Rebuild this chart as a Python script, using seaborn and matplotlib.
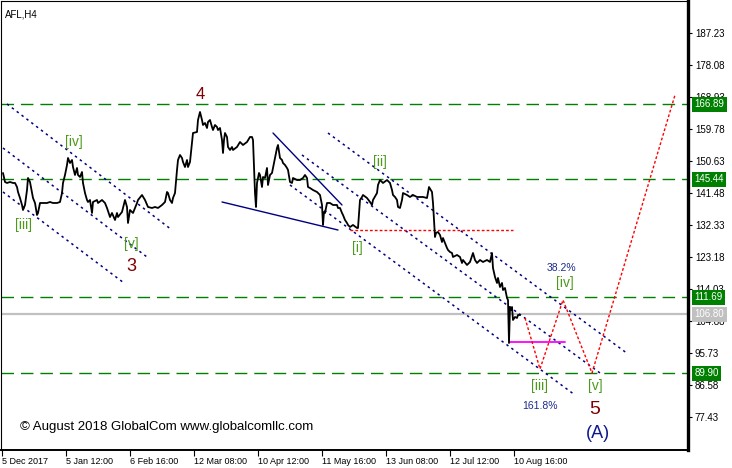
import numpy as np
import pandas as pd
import matplotlib
matplotlib.use("Agg")
import matplotlib.pyplot as plt
import matplotlib.transforms as mtransforms
import seaborn as sns

# --- price series (bar index, close) ---
bar_idx = [3, 5, 7, 10, 13, 15, 17, 18, 20, 22, 23, 25, 27, 28, 30, 32, 33, 35, 37, 38,
           40, 43, 47, 50, 53, 57, 60, 62, 63, 65, 67, 68, 70, 72, 73, 75, 77, 78, 80, 82,
           83, 85, 87, 88, 90, 92, 93, 97, 98, 102, 105, 107, 110, 112, 115, 117, 118, 122, 125, 127,
           128, 130, 133, 137, 138, 142, 145, 148, 152, 155, 158, 162, 165, 167, 168, 170, 172, 173, 175, 177,
           178, 180, 182, 183, 185, 187, 188, 190, 192, 193, 197, 198, 200, 202, 203, 205, 207, 208, 210, 212,
           213, 215, 217, 218, 220, 222, 223, 224, 225, 227, 228, 230, 232, 233, 237, 240, 243, 247, 250, 252,
           253, 254, 255, 256, 257, 259, 260, 262, 263, 265, 267, 268, 270, 272, 273, 275, 277, 278, 280, 282,
           283, 285, 287, 288, 290, 292, 293, 297, 300, 303, 305, 307, 308, 310, 313, 317, 320, 322, 323, 324,
           325, 327, 330, 333, 337, 338, 340, 342, 343, 345, 347, 348, 350, 353, 357, 358, 360, 362, 363, 367,
           370, 372, 373, 377, 378, 380, 383, 387, 390, 392, 393, 395, 397, 398, 400, 402, 403, 407, 410, 413,
           417, 420, 423, 427, 429, 432, 433, 435, 436, 438, 440, 442, 443, 445, 447, 448, 450, 452, 453, 457,
           460, 462, 463, 467, 470, 473, 475, 477, 480, 483, 487, 490, 492, 493, 495, 497, 498, 500, 502, 503,
           505, 507, 508, 509, 510, 511, 512, 513, 515, 517, 518, 520]
close = [147.23, 144.65, 144.37, 144.65, 144.37, 144.37, 143.22, 141.79, 140.07, 138.07, 136.64, 138.07, 142.36, 145.80, 144.65, 141.50, 140.07, 138.64, 135.21, 135.78,
         138.64, 138.64, 138.64, 138.93, 138.64, 138.64, 138.93, 141.50, 144.37, 146.66, 149.52, 151.52, 150.09, 150.95, 148.94, 146.66, 148.66, 146.66, 146.08, 147.51,
         144.37, 141.50, 139.50, 138.93, 139.50, 135.78, 138.93, 139.50, 138.64, 139.50, 138.64, 137.21, 134.63, 135.78, 133.78, 135.78, 134.63, 136.07, 139.50, 137.50,
         132.92, 136.64, 135.78, 138.64, 139.50, 140.93, 139.50, 137.50, 137.21, 137.50, 137.21, 138.07, 138.93, 141.79, 141.50, 139.50, 138.64, 140.07, 141.50, 148.09,
         150.95, 152.38, 151.52, 150.38, 148.94, 150.95, 148.94, 150.38, 155.81, 158.67, 158.96, 162.40, 164.69, 162.40, 160.97, 161.54, 160.11, 161.82, 162.40, 160.39,
         159.53, 160.97, 160.39, 159.53, 160.11, 156.67, 152.95, 156.67, 158.67, 157.53, 154.67, 153.81, 154.67, 153.81, 154.67, 156.10, 155.24, 156.10, 157.53, 157.53,
         156.67, 148.94, 141.50, 137.50, 144.37, 147.23, 146.66, 143.22, 146.08, 145.80, 148.66, 143.79, 146.66, 147.23, 148.66, 151.52, 154.38, 155.24, 151.52, 150.95,
         150.09, 149.52, 148.66, 148.09, 144.65, 144.37, 145.80, 145.22, 145.22, 145.80, 146.66, 145.80, 143.22, 142.93, 142.36, 141.79, 140.93, 138.07, 132.35, 136.07,
         135.78, 138.64, 138.64, 138.07, 138.07, 137.21, 137.21, 135.78, 135.21, 133.78, 132.92, 132.35, 131.77, 132.35, 131.49, 131.49, 139.50, 140.36, 140.93, 140.07,
         138.93, 138.07, 139.50, 141.50, 143.79, 145.22, 144.37, 145.22, 144.37, 142.36, 140.93, 140.36, 139.50, 137.50, 137.21, 139.50, 141.50, 140.93, 140.36, 140.93,
         140.36, 140.36, 140.36, 140.07, 143.22, 141.79, 138.64, 128.91, 130.06, 130.34, 129.48, 127.48, 128.62, 127.19, 125.76, 125.19, 124.62, 124.33, 123.19, 123.76,
         123.19, 121.47, 122.33, 120.90, 121.76, 124.33, 122.33, 121.47, 122.33, 121.76, 122.33, 121.76, 124.33, 120.04, 117.46, 115.75, 117.18, 114.60, 115.75, 113.74,
         114.31, 111.45, 110.88, 98.57, 108.88, 108.02, 108.88, 105.16, 106.02, 105.73, 106.59, 106.59]

# axis ticks
price_ticks = [187.23, 178.08, 168.93, 159.78, 150.63, 141.48, 132.33, 123.18, 114.03, 104.88, 95.73, 86.58, 77.43]
date_ticks = [2, 66, 130, 194, 258, 322, 386, 450, 514]
date_labels = ["5 Dec 2017", "5 Jan 12:00", "6 Feb 16:00", "12 Mar 08:00", "10 Apr 12:00",
               "11 May 16:00", "13 Jun 08:00", "12 Jul 12:00", "10 Aug 16:00"]

# horizontal levels
green_levels = [166.89, 145.44, 111.69, 89.90]
last_price = 106.80

# trend channels: (x0, p0, x1, p1)
channel_lines = [(7, 166.98, 172, 130.91), (3, 154.38, 147, 123.19), (3, 141.79, 124, 115.75),
                 (328, 158.67, 628, 95.43), (302, 152.38, 600, 89.99), (290, 143.79, 575, 83.69)]
wedge_lines = [(273, 158.67, 342, 138.07), (222, 138.93, 338, 130.91)]
red_level = (350, 513, 130.91)
magenta_level = (510, 565, 98.86)
forecast_x = [525, 540, 563, 592, 675]
forecast_p = [105.73, 91.13, 110.88, 89.99, 169.55]

# wave labels: (text, x, price, colour, size)
wave_labels = [("4", 200, 169.55, "#800000", 12), ("3", 131, 120.33, "#800000", 13),
               ("5", 595, 79.40, "#800000", 14), ("(A)", 598, 72.81, "#0c1a8c", 13),
               ("[iv]", 74, 156.10, "#4c9a1c", 10), ("[iii]", 24, 132.35, "#4c9a1c", 10),
               ("[v]", 131, 126.91, "#4c9a1c", 10), ("[i]", 357, 125.76, "#4c9a1c", 10),
               ("[ii]", 380, 150.38, "#4c9a1c", 10), ("[iv]", 565, 115.75, "#4c9a1c", 10),
               ("[iii]", 540, 86.27, "#4c9a1c", 10), ("[v]", 595, 86.27, "#4c9a1c", 10),
               ("38.2%", 561, 120.04, "#1c2a8c", 7.5), ("161.8%", 540, 80.54, "#1c2a8c", 7.5)]

sns.set_theme(style="white")
plt.rcParams['font.family'] = ['Liberation Sans', 'DejaVu Sans']

fig = plt.figure(figsize=(7.32, 4.68), dpi=100)
ax = fig.add_axes([1 / 732, 18 / 468, 687 / 732, 449 / 468])

df = pd.DataFrame({"bar": bar_idx, "close": close})
sns.lineplot(data=df, x="bar", y="close", ax=ax, color="black", lw=1.3, estimator=None, sort=False, zorder=5)

for lvl in green_levels:
    ax.axhline(lvl, color="#008000", lw=1.0, dashes=(9, 5), zorder=2)
ax.axhline(last_price, color="#c0c0c0", lw=1.6, zorder=1)

for x0, p0, x1, p1 in channel_lines:
    ax.plot([x0, x1], [p0, p1], color="#000080", lw=1.1, ls=(0, (1.6, 2.4)), zorder=3)
for x0, p0, x1, p1 in wedge_lines:
    ax.plot([x0, x1], [p0, p1], color="#000080", lw=1.0, zorder=3)
ax.plot([red_level[0], red_level[1]], [red_level[2]] * 2, color="red", lw=1.0, ls=(0, (2, 1.5)), zorder=3)
ax.plot([magenta_level[0], magenta_level[1]], [magenta_level[2]] * 2, color="#ff00ff", lw=1.3, zorder=3)
ax.plot(forecast_x, forecast_p, color="red", lw=1.0, ls=(0, (2, 1.5)), zorder=3)

for txt, x, p, c, s in wave_labels:
    ax.text(x, p, txt, color=c, fontsize=s, ha="center", va="center", zorder=6)

ax.text(5, 192.6, "AFL,H4", fontsize=7, color="black", ha="left", va="center")
ax.text(20, 74.5, "© August 2018 GlobalCom www.globalcomllc.com", fontsize=9.5,
        color="black", ha="left", va="center")

ax.set_xlim(1, 688)
ax.set_ylim(67.95, 196.45)
ax.yaxis.tick_right()
ax.set_yticks(price_ticks)
ax.set_yticklabels([f"{v:.2f}" for v in price_ticks])
ax.set_xticks(date_ticks)
ax.set_xticklabels(date_labels, ha="left")
ax.tick_params(axis="y", which="both", right=True, direction="out", length=3, width=0.8,
               labelsize=7, pad=2, colors="black")
ax.tick_params(axis="x", which="both", bottom=True, direction="out", length=4, width=0.8,
               labelsize=6.5, pad=1, colors="black")
ax.set_xlabel("")
ax.set_ylabel("")

for side in ["left", "top"]:
    ax.spines[side].set_color("black")
    ax.spines[side].set_linewidth(0.8)
ax.spines["bottom"].set_color("black")
ax.spines["bottom"].set_linewidth(1.4)
ax.spines["right"].set_color("black")
ax.spines["right"].set_linewidth(2.4)

trans = mtransforms.blended_transform_factory(ax.transAxes, ax.transData)
for lvl in green_levels:
    ax.text(1.0095, lvl, f"{lvl:.2f}", transform=trans, fontsize=7, color="white", ha="left",
            va="center", clip_on=False, zorder=10,
            bbox=dict(facecolor="#008000", edgecolor="none", boxstyle="square,pad=0.25"))
ax.text(1.0095, last_price, f"{last_price:.2f}", transform=trans, fontsize=7, color="white", ha="left",
        va="center", clip_on=False, zorder=10,
        bbox=dict(facecolor="#c0c0c0", edgecolor="none", boxstyle="square,pad=0.25"))

fig.savefig("out.png", dpi=100)
